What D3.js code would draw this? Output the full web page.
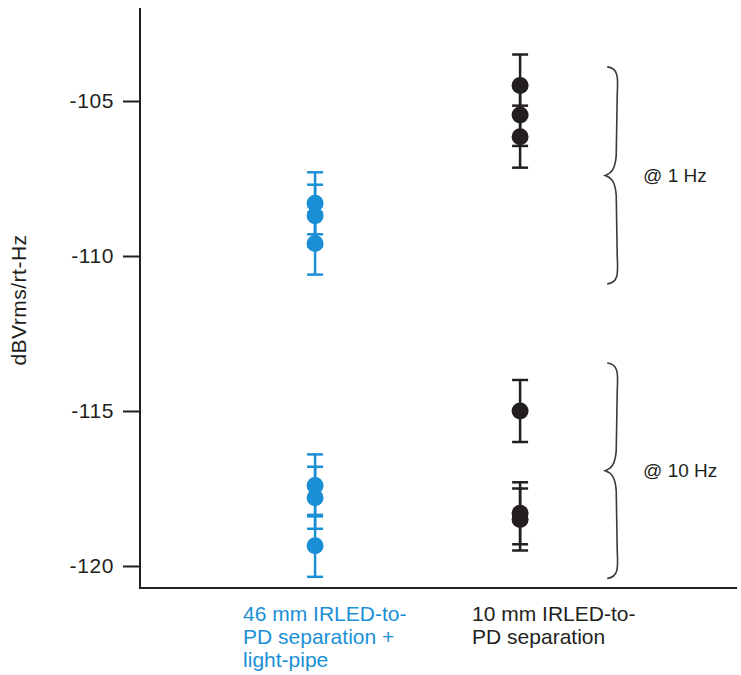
<!DOCTYPE html>
<html>
<head>
<meta charset="utf-8">
<script src="https://cdn.jsdelivr.net/npm/d3@7"></script>
<style>
  html, body { margin: 0; padding: 0; background: #ffffff; }
  svg { display: block; font-family: "Liberation Sans", Arial, sans-serif; }
</style>
</head>
<body>
<svg id="chart" width="741" height="675"></svg>
<script>
// ---- data ----
const categories = ["46 mm IRLED-to-PD separation + light-pipe", "10 mm IRLED-to-PD separation"];
const categoryLines = [["46 mm IRLED-to-", "PD separation +", "light-pipe"], ["10 mm IRLED-to-", "PD separation"]];
const seriesColors = ["#1b8fd6", "#231f20"];
const blue1Hz = [-108.3, -108.7, -109.6];
const blue10Hz = [-117.4, -117.8, -119.35];
const black1Hz = [-104.5, -105.45, -106.15];
const black10Hz = [-115.0, -118.3, -118.5];
const errorHalf = 1.0;
const yTicks = [-105, -110, -115, -120];
const yTickLabels = ["-105", "-110", "-115", "-120"];
const yLabel = "dBVrms/rt-Hz";
const braceGroups = [
  { label: "@ 1 Hz", top: -103.9, bottom: -110.9 },
  { label: "@ 10 Hz", top: -113.45, bottom: -120.4 }
];

// ---- layout ----
const svg = d3.select("#chart");
const pLeft = 140, pRight = 737, pTop = 8, pBottom = 588;

const x = d3.scaleLinear().domain([-0.854, 2.058]).range([pLeft, pRight]);
const y = d3.scaleLinear().domain([-120.71, -102.0]).range([pBottom, pTop]);

// flattened points
const points = [];
[[blue1Hz, blue10Hz], [black1Hz, black10Hz]].forEach((sets, ci) => {
  sets.forEach(vals => vals.forEach(v => points.push({ c: ci, v })));
});

// axes
const yAxis = d3.axisLeft(y).tickValues(yTicks).tickSize(17).tickPadding(9)
  .tickFormat((d, i) => yTickLabels[i]);
const gy = svg.append("g").attr("transform", `translate(${pLeft},0)`).call(yAxis);
gy.select(".domain").remove();
gy.selectAll(".tick line").attr("stroke", "#231f20").attr("stroke-width", 2);
gy.selectAll(".tick text").attr("font-size", 21).attr("fill", "#231f20")
  .attr("font-family", "Liberation Sans, Arial, sans-serif").attr("letter-spacing", "0.6px");

svg.append("line").attr("x1", pLeft).attr("x2", pLeft).attr("y1", pTop).attr("y2", pBottom + 1)
  .attr("stroke", "#231f20").attr("stroke-width", 2);
svg.append("line").attr("x1", pLeft - 1).attr("x2", pRight).attr("y1", pBottom).attr("y2", pBottom)
  .attr("stroke", "#231f20").attr("stroke-width", 2);

// y label
svg.append("text")
  .attr("transform", `translate(26,300) rotate(-90)`)
  .attr("text-anchor", "middle")
  .attr("font-size", 21)
  .attr("letter-spacing", "0.5px")
  .attr("fill", "#231f20")
  .text(yLabel);

// error bars
const cap = 8;
const eb = svg.append("g");
points.forEach(p => {
  const cx = x(p.c), col = seriesColors[p.c];
  eb.append("line").attr("x1", cx).attr("x2", cx).attr("y1", y(p.v + errorHalf)).attr("y2", y(p.v - errorHalf))
    .attr("stroke", col).attr("stroke-width", 2.5);
  [p.v + errorHalf, p.v - errorHalf].forEach(e => {
    eb.append("line").attr("x1", cx - cap).attr("x2", cx + cap).attr("y1", y(e)).attr("y2", y(e))
      .attr("stroke", col).attr("stroke-width", 2.5);
  });
});

// points
svg.append("g").selectAll("circle").data(points).join("circle")
  .attr("cx", d => x(d.c)).attr("cy", d => y(d.v)).attr("r", 8.5)
  .attr("fill", d => seriesColors[d.c]);

// category labels
categoryLines.forEach((lines, ci) => {
  const lx = x(ci) - 72 + (ci === 1 ? 24 : 0);
  const t = svg.append("text")
    .attr("x", lx)
    .attr("y", 621)
    .attr("font-size", 21)
    .attr("fill", ci === 0 ? seriesColors[0] : "#231f20");
  lines.forEach((ln, i) => {
    t.append("tspan").attr("x", lx).attr("dy", i === 0 ? 0 : 23).text(ln);
  });
});

// braces
function bracePath(x0, y0, y1) {
  const mid = (y0 + y1) / 2;
  const w = 11;
  const tip = -2;
  return `M${x0},${y0}` +
    ` C${x0 + w},${y0 + 1} ${x0 + w},${y0 + 10} ${x0 + w - 1},${y0 + 28}` +
    ` L${x0 + w - 2},${mid - 20}` +
    ` C${x0 + w - 3},${mid - 6} ${x0 + 4},${mid - 2} ${x0 + tip},${mid}` +
    ` C${x0 + 4},${mid + 2} ${x0 + w - 3},${mid + 6} ${x0 + w - 2},${mid + 20}` +
    ` L${x0 + w - 1},${y1 - 28}` +
    ` C${x0 + w},${y1 - 10} ${x0 + w},${y1 - 1} ${x0},${y1}`;
}
braceGroups.forEach(b => {
  const bx = x(1.425);
  svg.append("path").attr("d", bracePath(bx, y(b.top), y(b.bottom)))
    .attr("fill", "none").attr("stroke", "#3a3a3a").attr("stroke-width", 1.6);
  svg.append("text").attr("x", x(1.6)).attr("y", (y(b.top) + y(b.bottom)) / 2)
    .attr("dy", "0.35em").attr("font-size", 19).attr("fill", "#231f20").text(b.label);
});
</script>
</body>
</html>
